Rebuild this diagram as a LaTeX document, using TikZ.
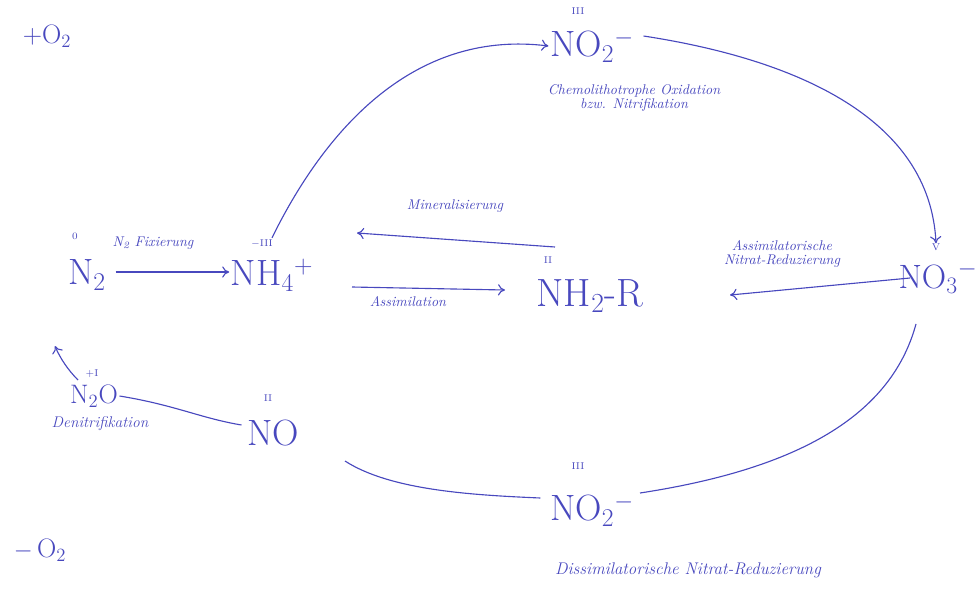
\documentclass[tikz,border=0pt]{standalone}
\usetikzlibrary{arrows.meta}
\definecolor{ink}{RGB}{72,72,190}
\begin{document}
\begin{tikzpicture}[x=0.025cm,y=-0.025cm,
  chem/.style={text=ink, font=\fontsize{26}{30}\selectfont, inner sep=1pt},
  chems/.style={text=ink, font=\fontsize{19}{22}\selectfont, inner sep=1pt},
  ox/.style={text=ink, font=\fontsize{7}{8}\selectfont, inner sep=0pt},
  lbl/.style={text=ink, font=\itshape\fontsize{10}{11.5}\selectfont, inner sep=1pt, align=center},
  conn/.style={draw=ink, line width=0.8pt, -{To[length=5pt,width=8pt]}},
  plainline/.style={draw=ink, line width=0.8pt}]
\useasboundingbox (0,0) rectangle (979,593);

% oxygen side notes
\node[chems] (oplus) at (47,36) {+O\textsubscript{2}};
\node[chems] (ominus) at (40,550) {$-$\,O\textsubscript{2}};

% species
\node[chem] (n2) at (87,275) {N\textsubscript{2}};
\node[ox] (oxn2) at (75,236) {0};
\node[chem] (nh4) at (272,275) {NH\textsubscript{4}\textsuperscript{+}};
\node[ox] (oxnh4) at (262,244) {$-$III};
\node[chem, font=\fontsize{28}{32}\selectfont] (nh2r) at (590,296) {NH\textsubscript{2}-R};
\node[ox] (oxnh2r) at (548,260) {II};
\node[chem, font=\fontsize{24}{28}\selectfont] (no3) at (938,278) {NO\textsubscript{3}\textsuperscript{$-$}};
\node[ox] (oxno3) at (936,247) {V};
\node[chem] (no2t) at (592,46) {NO\textsubscript{2}\textsuperscript{$-$}};
\node[ox] (oxno2t) at (578,11) {III};
\node[chem] (no2b) at (592,510) {NO\textsubscript{2}\textsuperscript{$-$}};
\node[ox] (oxno2b) at (578,466) {III};
\node[chem] (no) at (273,433) {NO};
\node[ox] (oxno) at (268,398) {II};
\node[chems] (n2o) at (94,396) {N\textsubscript{2}O};
\node[ox] (oxn2o) at (92,374) {+I};

% labels
\node[lbl] (lfix) at (153,243) {N\textsubscript{2} Fixierung};
\node[lbl] (lmin) at (455,206) {Mineralisierung};
\node[lbl] (lass) at (408,302) {Assimilation};
\node[lbl] (lanr) at (782,254) {Assimilatorische\\[-2pt]Nitrat-Reduzierung};
\node[lbl] (lchem) at (634,98) {Chemolithotrophe Oxidation\\[-1pt]bzw. Nitrifikation};
\node[lbl, font=\itshape\fontsize{11}{13}\selectfont] (lden) at (100,424) {Denitrifikation};
\node[lbl, font=\itshape\fontsize{12}{14}\selectfont] (ldnr) at (688,570) {Dissimilatorische Nitrat-Reduzierung};

% connectors
\draw[conn] (n2.east) ++(8,-3) coordinate (fixS) -- (nh4.west |- fixS);
\coordinate (minS) at (555,247);
\coordinate (minE) at (357,233);
\draw[conn] (minS) -- (minE);
\coordinate (assS) at (352,287);
\coordinate (assE) at (505,290);
\draw[conn] (assS) -- (assE);
\coordinate (anrS) at (910,278);
\coordinate (anrE) at (730,295);
\draw[conn] (anrS) -- (anrE);
\draw[conn] (oxnh4.north) ++(10,-2) coordinate (nitS) .. controls (330,120) and (420,30) .. (no2t.west);
\draw[conn] (no2t.east) ++(8,-10) coordinate (nitS2) .. controls (800,60) and (930,120) .. (oxno3.north);
\coordinate (dnrE) at (640,493);
\draw[plainline] (no3.south) ++(-22,28) coordinate (dnrS) .. controls (890,420) and (790,470) .. (dnrE);
\coordinate (noE) at (345,461);
\draw[plainline] (no2b.west) ++(-8,-12) coordinate (no2W) .. controls (470,495) and (390,490) .. (noE);
\draw[plainline] (no.west) ++(-4,-8) coordinate (noW) .. controls (200,418) and (175,405) .. (n2o.east);
\coordinate (n2oT) at (78,380);
\coordinate (n2B) at (55,346);
\draw[conn] (n2oT) .. controls (68,370) and (60,358) .. (n2B);
\end{tikzpicture}
\end{document}
